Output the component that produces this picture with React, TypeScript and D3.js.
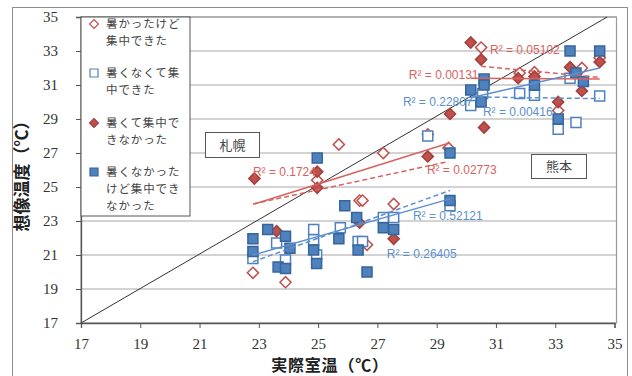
import React, { useEffect, useRef } from 'react'
import * as d3 from 'd3'

// 暑かったけど集中できた (open red diamond)
const hotOkX = [22.8, 23.9, 24.97, 25.7, 27.2, 28.7, 29.4, 26.4, 26.5, 27.55, 26.65, 30.5, 31.8, 32.3, 33.9, 34.5, 33.1]
const hotOkY = [19.95, 19.4, 25.4, 27.5, 27.0, 28.1, 27.3, 24.2, 24.2, 24.0, 21.6, 33.2, 31.7, 31.75, 32.0, 32.6, 29.5]

// 暑くなくて集中できた (open blue square)
const coolOkX = [22.8, 23.6, 23.9, 24.85, 24.85, 24.95, 25.75, 26.35, 26.5, 27.2, 27.55, 28.7, 29.45, 30.15, 30.55, 31.8, 32.3, 33.5, 33.1, 33.7, 34.5]
const coolOkY = [20.8, 21.7, 20.7, 22.5, 21.9, 21.0, 22.6, 21.8, 21.8, 23.2, 23.2, 28.0, 23.9, 29.8, 30.5, 30.5, 30.4, 31.4, 28.4, 28.8, 30.35]

// 暑くて集中できなかった (filled red diamond)
const hotNgX = [22.85, 24.97, 24.97, 28.7, 26.4, 23.6, 27.55, 29.45, 30.15, 30.5, 30.6, 31.75, 32.3, 33.5, 33.9, 34.5, 33.1]
const hotNgY = [25.5, 25.9, 24.95, 26.8, 22.9, 22.4, 21.95, 29.3, 33.5, 32.5, 28.5, 31.4, 31.5, 32.05, 30.65, 32.35, 30.0]

// 暑くなかったけど集中できなかった (filled blue square)
const coolNgX = [22.8, 22.8, 23.3, 23.9, 24.05, 23.65, 23.9, 24.85, 24.95, 24.97, 25.7, 25.9, 26.3, 26.35, 26.65, 27.2, 27.55, 29.45, 29.45,
  30.15, 30.6, 30.6, 30.5, 32.3, 33.5, 33.7, 33.95, 34.5, 33.1]
const coolNgY = [21.95, 21.2, 22.5, 22.1, 21.4, 20.3, 20.2, 21.3, 20.5, 26.7, 21.95, 23.9, 23.2, 21.3, 20.0, 22.6, 22.5, 24.2, 27.0,
  30.7, 31.35, 31.0, 30.0, 31.0, 33.0, 31.7, 31.2, 33.0, 29.0]

// trend lines: [x0, y0, x1, y1]
const trendSeries = ['hotNg', 'hotOk', 'coolNg', 'coolOk', 'hotOk', 'hotNg', 'coolNg', 'coolOk']
const trendEnds = [
  [22.85, 24.0, 29.45, 27.6],
  [22.8, 24.0, 29.4, 26.5],
  [22.8, 21.0, 29.45, 24.3],
  [22.8, 20.6, 29.45, 24.8],
  [30.5, 32.1, 34.5, 31.45],
  [30.15, 31.4, 34.5, 31.35],
  [30.15, 30.25, 34.5, 32.0],
  [30.15, 30.3, 34.5, 30.2],
]
const r2Labels = ['R² = 0.1724', 'R² = 0.02773', 'R² = 0.26405', 'R² = 0.52121', 'R² = 0.05102', 'R² = 0.00131', 'R² = 0.22807', 'R² = 0.00416']
const r2At = [[22.8, 25.88], [28.67, 26.0], [27.32, 21.1], [28.2, 23.3], [30.8, 33.1], [28.06, 31.6], [27.86, 30.0], [30.56, 29.4]]

// y = x reference line
const refLine = [[17, 17], [34.75, 35]]

const ticks = [17, 19, 21, 23, 25, 27, 29, 31, 33, 35]

const legendItems = [
  { key: 'hotOk', lines: ['暑かったけど', '集中できた'] },
  { key: 'coolOk', lines: ['暑くなくて集', '中できた'] },
  { key: 'hotNg', lines: ['暑くて集中で', 'きなかった'] },
  { key: 'coolNg', lines: ['暑くなかった', 'けど集中でき', 'なかった'] },
]

const RED = '#c0504d'
const BLUE = '#4f81bd'
const styles = {
  hotOk: { shape: 'diamond', fill: '#fff', stroke: RED, line: '#d9625e', dash: '5,3' },
  coolOk: { shape: 'square', fill: '#fff', stroke: BLUE, line: '#5b8fd0', dash: '5,3' },
  hotNg: { shape: 'diamond', fill: RED, stroke: '#a23f3c', line: '#d9625e', dash: null },
  coolNg: { shape: 'square', fill: BLUE, stroke: '#35659c', line: '#5b8fd0', dash: null },
}

const serif = '"Liberation Serif", "Times New Roman", serif'
const jp = '"Noto Sans CJK JP", sans-serif'

export default function App() {
  const svgRef = useRef(null)

  useEffect(() => {
    const W = 632
    const H = 376
    const svg = d3.select(svgRef.current)
    svg.selectAll('*').remove()

    const x = d3.scaleLinear().domain([17, 35]).range([81, 614.5])
    const y = d3.scaleLinear().domain([17, 35]).range([323, 17])

    svg.append('rect').attr('width', W).attr('height', H).attr('fill', '#fff')
    // outer chart frame
    svg.append('rect').attr('x', 12.5).attr('y', 7.5).attr('width', 615).attr('height', 400)
      .attr('fill', 'none').attr('stroke', '#8c8c8c').attr('stroke-width', 1)

    // gridlines
    svg.append('g').selectAll('line').data(ticks.slice(1)).join('line')
      .attr('x1', x(17)).attr('x2', 616.5)
      .attr('y1', d => y(d)).attr('y2', d => y(d))
      .attr('stroke', '#c4c4c4').attr('stroke-width', 1.5)

    // plot area border
    svg.append('rect').attr('x', x(17)).attr('y', y(35)).attr('width', 616.5 - x(17)).attr('height', y(17) - y(35))
      .attr('fill', 'none').attr('stroke', '#9a9a9a').attr('stroke-width', 1.2)

    // axes
    const xAxis = d3.axisBottom(x).tickValues(ticks).tickSize(5).tickPadding(10).tickFormat(d3.format('d'))
    const gx = svg.append('g').attr('transform', `translate(0, ${y(17)})`).call(xAxis)
    const yAxis = d3.axisLeft(y).tickValues(ticks).tickSize(5).tickPadding(18).tickFormat(d3.format('d'))
    const gy = svg.append('g').attr('transform', `translate(${x(17)}, 0)`).call(yAxis)
    ;[gx, gy].forEach(g => {
      g.select('.domain').attr('stroke', '#555').attr('stroke-width', 1.3)
      g.selectAll('.tick line').attr('stroke', '#555')
      g.selectAll('.tick text').attr('font-family', serif).attr('font-size', 15).attr('fill', '#333')
    })

    // y = x line
    svg.append('path')
      .attr('d', d3.line().x(d => x(d[0])).y(d => y(d[1]))(refLine))
      .attr('stroke', '#333').attr('stroke-width', 1).attr('fill', 'none')

    // markers
    const squarePath = d3.symbol(d3.symbolSquare, 100)()
    const diamondPath = d3.symbol(d3.symbolSquare, 62)()
    const series = [
      { key: 'hotOk', xs: hotOkX, ys: hotOkY },
      { key: 'coolOk', xs: coolOkX, ys: coolOkY },
      { key: 'hotNg', xs: hotNgX, ys: hotNgY },
      { key: 'coolNg', xs: coolNgX, ys: coolNgY },
    ]
    const drawMarker = (sel, key) => {
      const s = styles[key]
      sel.attr('d', s.shape === 'square' ? squarePath : diamondPath)
        .attr('fill', s.fill).attr('stroke', s.stroke).attr('stroke-width', 1.5)
    }
    series.forEach(s => {
      svg.append('g').selectAll('path').data(s.xs.map((v, i) => [v, s.ys[i]])).join('path')
        .attr('transform', d => `translate(${x(d[0])},${y(d[1])})${styles[s.key].shape === 'diamond' ? ' rotate(45)' : ''}`)
        .call(drawMarker, s.key)
    })

    // trend lines
    svg.append('g').selectAll('line').data(trendEnds).join('line')
      .attr('x1', d => x(d[0])).attr('y1', d => y(d[1]))
      .attr('x2', d => x(d[2])).attr('y2', d => y(d[3]))
      .attr('stroke', (d, i) => styles[trendSeries[i]].line)
      .attr('stroke-dasharray', (d, i) => styles[trendSeries[i]].dash)
      .attr('stroke-width', 1.5)

    svg.append('g').selectAll('text').data(r2Labels).join('text')
      .attr('x', (d, i) => x(r2At[i][0])).attr('y', (d, i) => y(r2At[i][1]))
      .attr('dy', '0.35em')
      .attr('font-family', '"Liberation Sans", Arial, sans-serif').attr('font-size', 12)
      .attr('fill', (d, i) => styles[trendSeries[i]].line)
      .text(d => d)

    // city labels
    const cities = [{ name: '札幌', x: 205.5, y: 132.5, w: 54, h: 25 }, { name: '熊本', x: 531.5, y: 154.5, w: 55, h: 24 }]
    cities.forEach(c => {
      svg.append('rect').attr('x', c.x).attr('y', c.y).attr('width', c.w).attr('height', c.h)
        .attr('fill', '#fff').attr('stroke', '#555')
      svg.append('text').attr('x', c.x + c.w / 2).attr('y', c.y + c.h / 2).attr('dy', '0.35em')
        .attr('text-anchor', 'middle').attr('font-family', jp).attr('font-size', 13).attr('fill', '#444')
        .text(c.name)
    })

    // legend
    const lg = svg.append('g')
    lg.append('rect').attr('x', 81).attr('y', 17).attr('width', 109).attr('height', 199)
      .attr('fill', '#fff').attr('stroke', '#555')
    const rowTop = [24, 73, 123, 172]
    legendItems.forEach((it, i) => {
      const s = styles[it.key]
      lg.append('path').attr('transform', `translate(94,${rowTop[i]})${s.shape === 'diamond' ? ' rotate(45) scale(0.8)' : ' scale(0.8)'}`)
        .call(drawMarker, it.key)
      it.lines.forEach((t, j) => {
        lg.append('text').attr('x', 106).attr('y', rowTop[i] + j * 17).attr('dy', '0.35em')
          .attr('font-family', jp).attr('font-size', 11.5).attr('letter-spacing', 0.9)
          .attr('fill', '#444').text(t)
      })
    })

    // axis titles
    svg.append('text').attr('x', 330).attr('y', 365.5).attr('dy', '0.35em').attr('text-anchor', 'middle')
      .attr('font-family', jp).attr('font-weight', 700).attr('font-size', 16).attr('letter-spacing', 0.8).attr('fill', '#222')
      .text('実際室温（℃）')
    svg.append('text').attr('transform', 'translate(22,172) rotate(-90)').attr('dy', '0.35em').attr('text-anchor', 'middle')
      .attr('font-family', jp).attr('font-weight', 700).attr('font-size', 17).attr('fill', '#222')
      .text('想像温度（℃）')
  }, [])

  return (
    <svg ref={svgRef} width={632} height={376} style={{ position: 'absolute', left: 0, top: 0 }}></svg>
  )
}
